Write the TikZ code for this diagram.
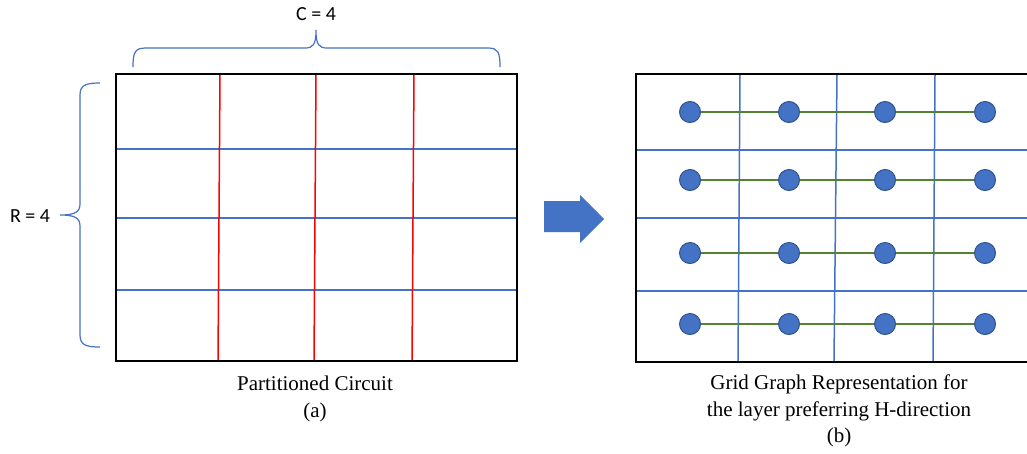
\documentclass[tikz,border=0pt]{standalone}
\usepackage{fontspec}
\setmainfont{Liberation Serif}
\newfontfamily\calib{Carlito}
\definecolor{oblue}{HTML}{4472C4}
\definecolor{odark}{HTML}{2F528F}
\definecolor{ogreen}{HTML}{548235}
\definecolor{ored}{HTML}{FF0000}
\begin{document}
\begin{tikzpicture}[x=1pt,y=-1pt,
  frame/.style={draw=black,line width=2pt},
  bluel/.style={draw=oblue,line width=1.5pt},
  redl/.style={draw=ored,line width=1.5pt},
  edge/.style={draw=ogreen,line width=2pt},
  brace/.style={draw=oblue,line width=1.2pt},
  gnode/.style={circle,fill=oblue,draw=odark,line width=1pt,minimum size=21pt,inner sep=0pt},
  caption/.style={font=\fontsize{21}{26.5}\selectfont,align=center,text=black},
  lab/.style={font=\calib\fontsize{20}{24}\selectfont,text=black}]
\useasboundingbox (0,0) rectangle (1027,453);
\clip (0,0) rectangle (1027,453);
\fill[white] (0,0) rectangle (1027,453);
% left panel
\foreach \y in {149,218,290} \draw[bluel] (116,\y) -- (517,\y);
\draw[redl] (220,74) -- (218,361);
\draw[redl] (316,74) -- (314,361);
\draw[redl] (414,74) -- (412,361);
\draw[frame] (116,74) rectangle (517,361);
% braces
\draw[brace] (133,67) .. controls (133,52) and (135,48) .. (146,48) -- (305,48)
  .. controls (313,48) and (316,45) .. (316,30)
  .. controls (316,45) and (319,48) .. (327,48) -- (488,48)
  .. controls (498,48) and (500,52) .. (500,67);
\draw[brace] (100,83) .. controls (86,83) and (80,85) .. (80,95) -- (80,204)
  .. controls (80,212) and (75,215) .. (60,215)
  .. controls (75,215) and (80,218) .. (80,226) -- (80,335)
  .. controls (80,345) and (86,347) .. (100,347);
\node[lab] (C) at (316,14) {C = 4};
\node[lab] (R) at (30,216) {R = 4};
% arrow
\fill[oblue] (544,201) -- (580,201) -- (580,195) -- (604,219) -- (580,243) -- (580,232) -- (544,232) -- cycle;
% right panel
\foreach \y in {150,218,291} \draw[bluel] (636,\y) -- (1040,\y);
\draw[bluel] (740,74) -- (738,361);
\draw[bluel] (837,74) -- (834,361);
\draw[bluel] (935,74) -- (933,361);
\draw[frame] (636,74) rectangle (1040,362);
\foreach \r/\y in {1/112,2/180,3/253,4/324}{
  \node[gnode] (n\r1) at (690,\y) {};
  \node[gnode] (n\r2) at (789,\y) {};
  \node[gnode] (n\r3) at (885,\y) {};
  \node[gnode] (n\r4) at (985,\y) {};
  \draw[edge] (n\r1) -- (n\r2);
  \draw[edge] (n\r2) -- (n\r3);
  \draw[edge] (n\r3) -- (n\r4);
}
% captions
\node[caption] (capa) at (315,399) {Partitioned Circuit\\(a)};
\node[caption] (capb) at (839,411) {Grid Graph Representation for\\the layer preferring H-direction\\(b)};
\end{tikzpicture}
\end{document}
